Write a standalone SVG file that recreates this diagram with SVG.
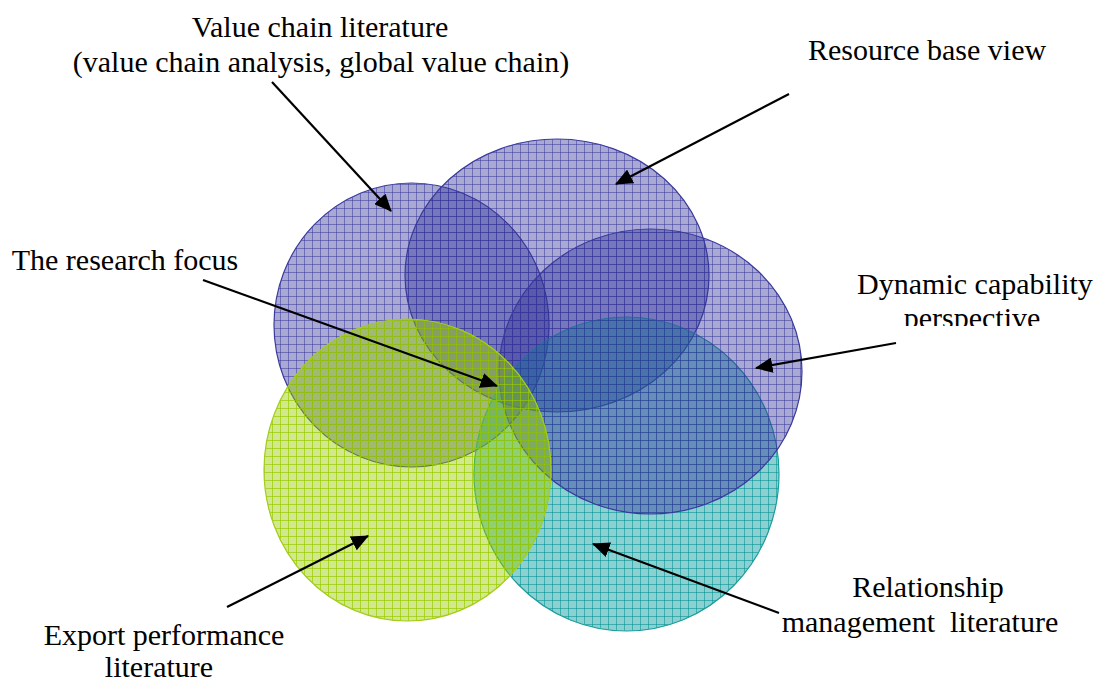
<svg xmlns="http://www.w3.org/2000/svg" width="1098" height="682" viewBox="0 0 1098 682">
<defs>
<style>
.lbl{font-family:'Liberation Serif',serif;font-size:30px;fill:#000;text-anchor:middle}
.arr{stroke:#000;stroke-width:2.2;fill:none;marker-end:url(#ah)}
.blue{fill:url(#pBlue);stroke:#3a3a9e;stroke-width:1.2}
.teal{fill:url(#pTeal);stroke:#1a9c9c;stroke-width:1.2}
.green{fill:url(#pGreen);stroke:#a4cc1a;stroke-width:1.2}
</style>
<pattern id="pBlue" patternUnits="userSpaceOnUse" width="8" height="8">
<rect width="8" height="8" fill="#333399" fill-opacity="0.42"/>
<path d="M0.5 0V8M0 0.5H8" stroke="#333399" stroke-opacity="0.5" stroke-width="1"/>
</pattern>
<pattern id="pTeal" patternUnits="userSpaceOnUse" width="8" height="8">
<rect width="8" height="8" fill="#009999" fill-opacity="0.45"/>
<path d="M0.5 0V8M0 0.5H8" stroke="#008f8f" stroke-opacity="0.55" stroke-width="1"/>
</pattern>
<pattern id="pGreen" patternUnits="userSpaceOnUse" width="8" height="8">
<rect width="8" height="8" fill="#99cc00" fill-opacity="0.45"/>
<path d="M0.5 0V8M0 0.5H8" stroke="#99cc00" stroke-opacity="0.7" stroke-width="1"/>
</pattern>
<marker id="ah" markerWidth="8" markerHeight="7" refX="7.5" refY="3.5" orient="auto" markerUnits="strokeWidth">
<path d="M0 0L8 3.5L0 7Z" fill="#000"/>
</marker>
<clipPath id="clipPersp"><rect x="850" y="290" width="248" height="36"/></clipPath>
</defs>
<rect width="1098" height="682" fill="#fff"/>

<g id="node-value-chain">
<ellipse class="blue" cx="411.5" cy="325" rx="137.5" ry="142"/>
</g>
<g id="node-resource-base">
<ellipse class="blue" cx="557" cy="275.5" rx="152" ry="136.5"/>
</g>
<g id="node-relationship">
<ellipse class="teal" cx="626.5" cy="474" rx="152.5" ry="157"/>
</g>
<g id="node-dynamic-capability">
<ellipse class="blue" cx="650.5" cy="371.5" rx="151.5" ry="142.5"/>
</g>
<g id="node-export">
<ellipse class="green" cx="407.5" cy="470" rx="143.5" ry="151"/>
</g>

<g id="connectors">
<line class="arr" x1="272" y1="82" x2="391" y2="211"/>
<line class="arr" x1="789" y1="94" x2="616" y2="184"/>
<line class="arr" x1="203" y1="280" x2="497" y2="386"/>
<line class="arr" x1="896" y1="343" x2="756" y2="368"/>
<line class="arr" x1="779" y1="613" x2="593" y2="544"/>
<line class="arr" x1="227" y1="607" x2="368" y2="536"/>
</g>

<g id="labels" font-family="Liberation Serif, serif">
<text class="lbl" x="320" y="37">Value chain literature</text>
<text class="lbl" x="321" y="72">(value chain analysis, global value chain)</text>
<text class="lbl" x="927" y="60">Resource base view</text>
<text class="lbl" x="125" y="270">The research focus</text>
<text class="lbl" x="975" y="294">Dynamic capability</text>
<text class="lbl" x="972" y="328" clip-path="url(#clipPersp)">perspective</text>
<text class="lbl" x="928" y="597">Relationship</text>
<text class="lbl" x="920" y="632" xml:space="preserve">management  literature</text>
<text class="lbl" x="164" y="645">Export performance</text>
<text class="lbl" x="159" y="677">literature</text>
</g>
</svg>
